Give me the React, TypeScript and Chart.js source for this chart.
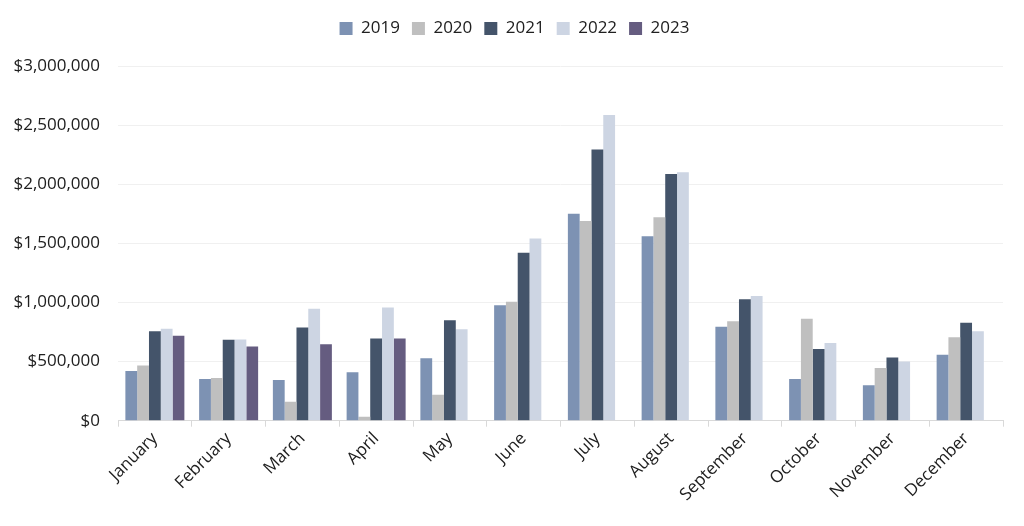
import React, { useEffect, useRef } from "react";
import { Chart, registerables } from "chart.js";

Chart.register(...registerables);

const months = ["January", "February", "March", "April", "May", "June", "July", "August", "September", "October", "November", "December"];
const years = ["2019", "2020", "2021", "2022", "2023"];
const colors = ["#7d92b3", "#bfbfbf", "#44546a", "#cdd5e3", "#655c80"];

const v2019 = [420000, 353000, 345000, 410000, 528000, 977000, 1751000, 1559000, 794000, 353000, 299000, 557000];
const v2020 = [466000, 362000, 161000, 34000, 220000, 1006000, 1689000, 1720000, 842000, 862000, 446000, 706000];
const v2021 = [757000, 684000, 788000, 695000, 850000, 1421000, 2294000, 2087000, 1028000, 607000, 534000, 828000];
const v2022 = [777000, 686000, 946000, 958000, 774000, 1542000, 2585000, 2102000, 1054000, 658000, 500000, 757000];
const v2023 = [718000, 627000, 647000, 695000, null, null, null, null, null, null, null, null];

const yTicks = [0, 500000, 1000000, 1500000, 2000000, 2500000, 3000000];

const FONT = "'Open Sans', 'Noto Sans', sans-serif";

const legendTweak = {
  id: "legendTweak",
  beforeInit(chart: any) {
    const fit = chart.legend.fit;
    chart.legend.fit = function () {
      fit.bind(chart.legend)();
      this.height += 19;
    };
  },
  beforeDraw(chart: any) {
    const lg = chart.legend;
    if (lg && !lg._shifted) {
      lg.left += 7;
      lg.right += 7;
      lg._shifted = true;
    }
  },
  afterUpdate(chart: any) {
    if (chart.legend) chart.legend._shifted = false;
  },
};

export default function App() {
  const ref = useRef<HTMLCanvasElement | null>(null);

  useEffect(() => {
    if (!ref.current) return;
    const series = [v2019, v2020, v2021, v2022, v2023];
    const chart = new Chart(ref.current, {
      type: "bar",
      data: {
        labels: months,
        datasets: years.map((y, i) => ({
          label: y,
          data: series[i],
          backgroundColor: colors[i],
          borderWidth: 0,
          categoryPercentage: 0.8,
          barPercentage: 1.0,
        })),
      },
      plugins: [legendTweak],
      options: {
        animation: false,
        responsive: true,
        maintainAspectRatio: false,
        layout: { padding: { left: 12, right: 21, top: 8, bottom: 19 } },
        plugins: {
          legend: {
            position: "top",
            labels: {
              boxWidth: 13,
              boxHeight: 13,
              padding: 12,
              color: "#202020",
              font: { family: FONT, size: 17 },
            },
          },
          tooltip: { enabled: false },
        },
        scales: {
          x: {
            grid: {
              display: true,
              drawOnChartArea: false,
              drawTicks: true,
              tickLength: 6,
              offset: true,
              color: "#d9d9d9",
            },
            border: { display: true, color: "#d9d9d9" },
            ticks: {
              color: "#202020",
              font: { family: FONT, size: 17 },
              maxRotation: 45,
              minRotation: 45,
              autoSkip: false,
              padding: 2,
            },
          },
          y: {
            min: 0,
            max: 3000000,
            afterBuildTicks: (axis: any) => {
              axis.ticks = yTicks.map((v) => ({ value: v }));
            },
            afterFit: (axis: any) => {
              axis.width = 106;
            },
            grid: {
              color: "#f0f0f0",
              drawTicks: false,
            },
            border: { display: false },
            ticks: {
              color: "#202020",
              font: { family: FONT, size: 17 },
              padding: 18,
              callback: (v: any) => "$" + Number(v).toLocaleString("en-US"),
            },
          },
        },
      },
    });
    return () => chart.destroy();
  }, []);

  return (
    <div style={{ position: "fixed", left: 0, top: 0, width: 1024, height: 526, background: "#fff" }}>
      <canvas ref={ref} />
    </div>
  );
}
